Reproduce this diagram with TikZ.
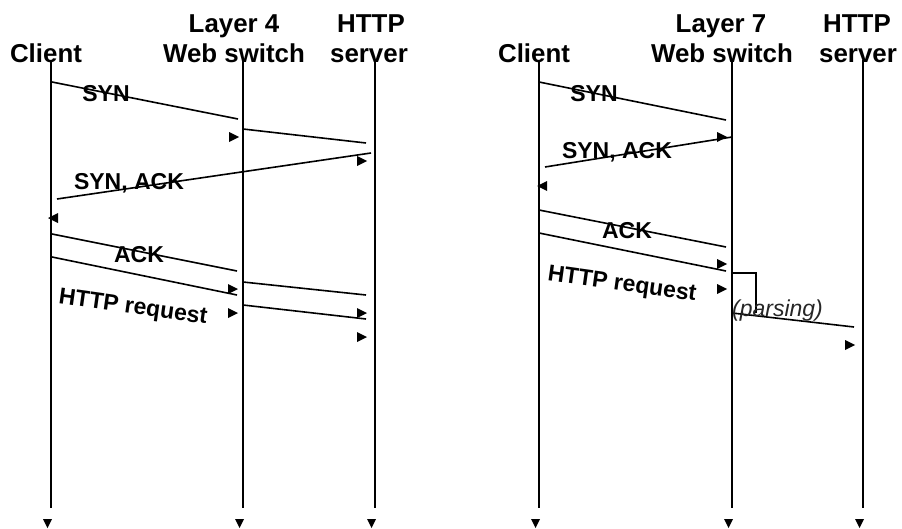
\documentclass[tikz,border=0pt]{standalone}
\usepackage{fontspec}
\setmainfont{Liberation Sans}
\begin{document}
\begin{tikzpicture}[x=0.75pt,y=-0.75pt,
  hdr/.style={anchor=base,inner sep=0pt,font=\fontsize{19.4}{23}\selectfont\bfseries},
  lbl/.style={anchor=base,inner sep=0pt,font=\fontsize{17.25}{20}\selectfont\bfseries},
  rlbl/.style={anchor=center,inner sep=0pt,rotate=-8,font=\fontsize{17.25}{20}\selectfont\bfseries},
  plbl/.style={anchor=center,inner sep=0pt,text=black!85,font=\fontsize{17.25}{20}\selectfont\itshape},
  life/.style={line width=1.3pt},
  msg/.style={line width=1.2pt},
  tipR/.pic={\fill (0,0) -- (-10,-5) -- (-10,5) -- cycle;},
  tipL/.pic={\fill (0,0) -- (10,-5) -- (10,5) -- cycle;},
  tipD/.pic={\fill (0,0) -- (-4.5,-9) -- (4.5,-9) -- cycle;}]
\useasboundingbox (0,0) rectangle (902,528);

% ---------- headers ----------
\node[hdr] (hc1) at (46,63) {Client};
\node[hdr] (hs1a) at (234,33) {Layer 4};
\node[hdr] (hs1b) at (234,63) {Web switch};
\node[hdr] (hh1a) at (371,33) {HTTP};
\node[hdr] (hh1b) at (369,63) {server};
\node[hdr] (hc2) at (534,63) {Client};
\node[hdr] (hs2a) at (721,33) {Layer 7};
\node[hdr] (hs2b) at (722,63) {Web switch};
\node[hdr] (hh2a) at (857,33) {HTTP};
\node[hdr] (hh2b) at (858,63) {server};

% ---------- lifelines ----------
\foreach \n/\x in {c1/51,s1/243,h1/375,c2/539,s2/732,h2/863}{
  \coordinate (\n t) at (\x,60);
  \coordinate (\n b) at (\x,508);
  \draw[life] (\n t) -- (\n b);
  \pic at (\x-3.5,528) {tipD};
}

% ---------- left: Layer 4 ----------
\coordinate (a1) at (52,82);   \coordinate (a2) at (238,119);
\coordinate (a3) at (243,129); \coordinate (a4) at (366,143);
\coordinate (a5) at (371,153); \coordinate (a6) at (57,199);
\coordinate (a7) at (52,234);  \coordinate (a8) at (237,271);
\coordinate (a9) at (52,257);  \coordinate (a10) at (237,295);
\coordinate (a11) at (243,282);\coordinate (a12) at (366,295);
\coordinate (a13) at (243,305);\coordinate (a14) at (366,319);
\draw[msg] (a1) -- (a2);
\draw[msg] (a3) -- (a4);
\draw[msg] (a5) -- (a6);
\draw[msg] (a7) -- (a8);
\draw[msg] (a9) -- (a10);
\draw[msg] (a11) -- (a12);
\draw[msg] (a13) -- (a14);
\pic at (239,137) {tipR};
\pic at (367,161) {tipR};
\pic at (48,218) {tipL};
\pic at (238,289) {tipR};
\pic at (238,313) {tipR};
\pic at (367,313) {tipR};
\pic at (367,337) {tipR};
\node[lbl] (l1) at (106,101) {SYN};
\node[lbl] (l2) at (129,189) {SYN, ACK};
\node[lbl] (l3) at (139,262) {ACK};
\node[rlbl] (l4) at (133,308) {HTTP request};

% ---------- right: Layer 7 ----------
\coordinate (b1) at (539,82);  \coordinate (b2) at (726,120);
\coordinate (b3) at (732,137); \coordinate (b4) at (545,167);
\coordinate (b5) at (539,210); \coordinate (b6) at (726,247);
\coordinate (b7) at (539,233); \coordinate (b8) at (726,271);
\coordinate (b9) at (732,313); \coordinate (b10) at (854,327);
\coordinate (bx1) at (732,273); \coordinate (bx2) at (756,273); \coordinate (bx3) at (756,313);
\draw[msg] (b1) -- (b2);
\draw[msg] (b3) -- (b4);
\draw[msg] (b5) -- (b6);
\draw[msg] (b7) -- (b8);
\draw[msg] (bx1) -- (bx2) -- (bx3);
\draw[msg] (b9) -- (b10);
\pic at (727,137) {tipR};
\pic at (537,186) {tipL};
\pic at (727,264) {tipR};
\pic at (727,289) {tipR};
\pic at (855,345) {tipR};
\node[lbl] (r1) at (594,101) {SYN};
\node[lbl] (r2) at (617,158) {SYN, ACK};
\node[lbl] (r3) at (627,238) {ACK};
\node[rlbl] (r4) at (622,285) {HTTP request};
\node[plbl] (r5) at (777.5,311) {(parsing)};
\end{tikzpicture}
\end{document}
